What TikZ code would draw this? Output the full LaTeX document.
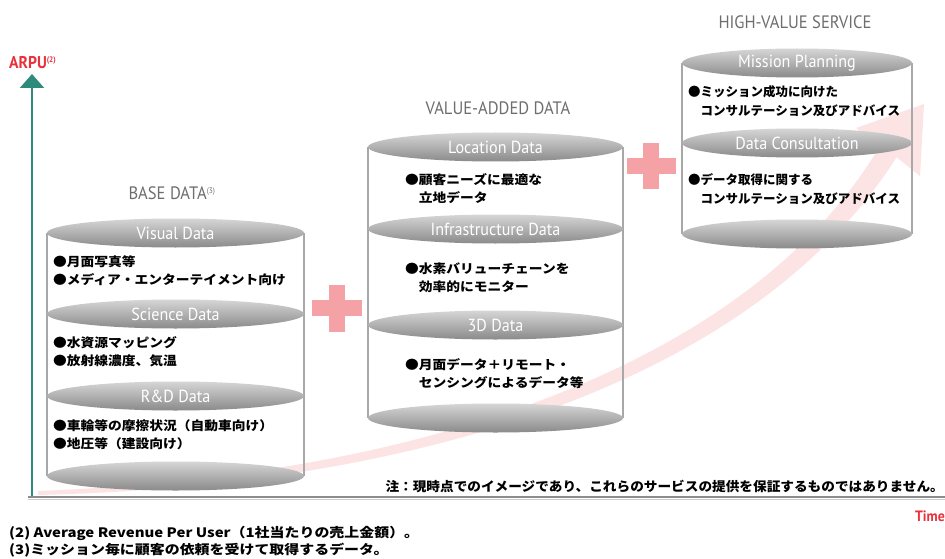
\documentclass[tikz,border=0pt]{standalone}
\usepackage{fontspec}
\setmainfont{PT Sans}
\newfontfamily\cjk{Noto Sans CJK JP}
\newfontfamily\cjkw{Noto Sans CJK JP}[FakeStretch=1.1]
\newfontfamily\cjkn{Noto Sans CJK JP}[FakeStretch=1.05]
\newfontfamily\cjkf{Noto Sans CJK JP}[FakeStretch=1.15]
\newfontfamily\latn{PT Sans}[FakeStretch=0.92]
\usetikzlibrary{shapes.geometric,arrows.meta,backgrounds}
\definecolor{tealax}{HTML}{2E8B7C}
\definecolor{redlab}{HTML}{E8313B}
\definecolor{hdrc}{HTML}{6E6E6E}
\definecolor{sidec}{HTML}{A8A8A8}
\definecolor{plusc}{HTML}{F4A2A6}
\definecolor{bandc}{HTML}{FCE4E5}
\definecolor{elltop}{HTML}{D6D6D6}
\definecolor{ellbot}{HTML}{8A8A8A}
\definecolor{axgray}{HTML}{8C8C8C}
\begin{document}
\begin{tikzpicture}[x=1pt,y=-1pt,
  disc/.style={ellipse, minimum height=29pt, inner sep=0pt, top color=elltop, bottom color=ellbot,
               font=\latn\fontsize{17.5}{17.5}\selectfont, text=white},
  sideln/.style={draw=sidec, line width=1.6pt},
  hdr/.style={text=hdrc, font=\latn\fontsize{18}{18}\selectfont},
  body/.style={anchor=west, align=left, font=\cjkw\bfseries\fontsize{12.5}{18}\selectfont, inner sep=0pt},
  bodyh/.style={body, font=\cjk\bfseries\fontsize{12.5}{18.5}\selectfont},
  plusbar/.style={fill=plusc, inner sep=0pt},
  redtxt/.style={text=redlab, font=\latn\bfseries\fontsize{17}{17}\selectfont, inner sep=0pt}
]
\useasboundingbox (0,0) rectangle (945,559);

% axes
\coordinate (yo) at (32,497);
\coordinate (ytop) at (32,74);
\draw[tealax, line width=2pt, -{Triangle[width=24pt,length=14pt]}] (yo) -- (ytop);
\coordinate (xo) at (28,497);
\coordinate (xe) at (945,497);
\draw[axgray, line width=2.4pt] (xo) -- (xe);
\draw[black!20, line width=1.5pt] ([yshift=-2.5pt]xo) -- ([yshift=-2.5pt]xe);

\node[redtxt, anchor=west] (arpu) at (9,63) {ARPU\textsuperscript{\fontsize{8}{8}\selectfont(2)}};
\node[redtxt, anchor=east, font=\latn\bfseries\fontsize{15}{15}\selectfont] (time) at (945,516) {Time};

% headers
\node[hdr] (hbase) at (172,193) {BASE DATA\textsuperscript{\fontsize{8}{8}\selectfont(3)}};
\node[hdr] (hval) at (498,108) {VALUE-ADDED DATA};
\node[hdr] (hhigh) at (795,22) {HIGH-VALUE SERVICE};

% base cylinder
\node[disc, minimum width=257pt] (vis) at (175.5,233) {Visual Data};
\node[disc, minimum width=257pt] (sci) at (175.5,314) {Science Data};
\node[disc, minimum width=257pt] (rnd) at (175.5,396) {R\&D Data};
\node[disc, minimum width=257pt] (bbot) at (175.5,476) {};

% value-added cylinder
\node[disc, minimum width=255pt] (loc) at (495.5,147) {Location Data};
\node[disc, minimum width=255pt] (inf) at (495.5,229) {Infrastructure Data};
\node[disc, minimum width=255pt] (tdd) at (495.5,325) {3D Data};
\node[disc, minimum width=255pt] (vbot) at (495.5,418) {};

% high-value cylinder
\node[disc, minimum width=230pt] (mis) at (797,63) {Mission Planning};
\node[disc, minimum width=230pt] (dcs) at (797,143) {Data Consultation};
\node[disc, minimum width=230pt] (hbot) at (797,234) {};

\begin{pgfonlayer}{background}
  \fill[white] (0,0) rectangle (945,559);
  \fill[bandc] (38,491) .. controls (450,475) and (756,353) .. (879.5,146.8)
     -- (856,128) -- (924,104) -- (920,176) -- (896.5,157.2)
     .. controls (764,367) and (450,485) .. (38,495) -- cycle;
  \draw[sideln] (vis.west) -- (bbot.west);
  \draw[sideln] (vis.east) -- (bbot.east);
  \draw[sideln] (loc.west) -- (vbot.west);
  \draw[sideln] (loc.east) -- (vbot.east);
  \draw[sideln] (mis.west) -- (hbot.west);
  \draw[sideln] (mis.east) -- (hbot.east);
\end{pgfonlayer}

% body texts
\node[body] (tvis) at (53,271) {●月面写真等\\●メディア・エンターテイメント向け};
\node[body] (tsci) at (53,352) {●水資源マッピング\\●放射線濃度、気温};
\node[body] (trnd) at (53,435) {●車輪等の摩擦状況（自動車向け）\\●地圧等（建設向け）};
\node[body] (tloc) at (405,189) {●顧客ニーズに最適な\\\phantom{●}立地データ};
\node[body] (tinf) at (405,278) {●水素バリューチェーンを\\\phantom{●}効率的にモニター};
\node[body] (ttdd) at (405,374) {●月面データ＋リモート・\\\phantom{●}センシングによるデータ等};
\node[bodyh] (tmis) at (688,101) {●ミッション成功に向けた\\\phantom{●}コンサルテーション及びアドバイス};
\node[bodyh] (tdcs) at (688,189) {●データ取得に関する\\\phantom{●}コンサルテーション及びアドバイス};

% plus signs
\node[plusbar, minimum width=50pt, minimum height=16pt] (p1h) at (337,308) {};
\node[plusbar, minimum width=16pt, minimum height=47pt] (p1v) at (337,308) {};
\node[plusbar, minimum width=49pt, minimum height=16pt] (p2h) at (651,166) {};
\node[plusbar, minimum width=16pt, minimum height=45pt] (p2v) at (651,166) {};

% note and footnotes
\node[anchor=east, inner sep=0pt, font=\cjkn\bfseries\fontsize{13}{13}\selectfont] (note) at (944,486)
  {注：現時点でのイメージであり、これらのサービスの提供を保証するものではありません。};
\node[anchor=west, inner sep=0pt, font=\cjkf\bfseries\fontsize{13}{13}\selectfont] (fn2) at (9,533)
  {(2) Average Revenue Per User（1社当たりの売上金額）。};
\node[anchor=west, inner sep=0pt, font=\cjkf\bfseries\fontsize{13}{13}\selectfont] (fn3) at (9,550)
  {(3)ミッション毎に顧客の依頼を受けて取得するデータ。};
\end{tikzpicture}
\end{document}
